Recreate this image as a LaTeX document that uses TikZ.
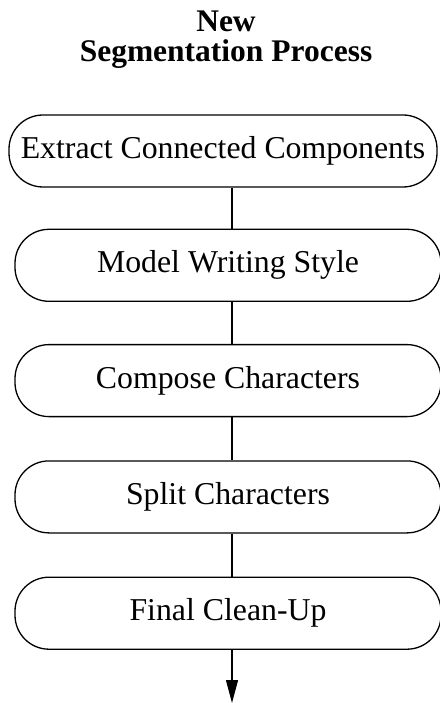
\documentclass[tikz,border=0pt]{standalone}
\usepackage{fontspec}
\setmainfont{Liberation Serif}
\usetikzlibrary{arrows.meta, positioning}

\begin{document}
\begin{tikzpicture}[x=1pt, y=-1pt, >={Triangle[length=23pt, width=12pt]},
    stepbox/.style={draw, line width=1.3pt, rounded corners=34pt,
        minimum height=72pt, minimum width=426pt, inner sep=0pt,
        font=\fontsize{31.8}{36}\selectfont},
    link/.style={line width=1.2pt}]
    \useasboundingbox (0,0) rectangle (439,703);
    \node[align=center, font=\fontsize{31.5}{30}\bfseries\selectfont] (title) at (226,40) {New\\Segmentation Process};
    \node[stepbox, minimum width=428pt] (extract) at (223,151) {Extract Connected Components};
    \node[stepbox, below=41pt of extract, xshift=5pt] (model) {Model Writing Style};
    \node[stepbox, below=42pt of model] (compose) {Compose Characters};
    \node[stepbox, below=43pt of compose] (split) {Split Characters};
    \node[stepbox, below=43pt of split] (final) {Final Clean-Up};
    \coordinate (spine) at (232,0);
    \coordinate (out) at (232,703);
    \draw[link] (extract.south -| spine) -- (model.north -| spine);
    \draw[link] (model.south -| spine) -- (compose.north -| spine);
    \draw[link] (compose.south -| spine) -- (split.north -| spine);
    \draw[link] (split.south -| spine) -- (final.north -| spine);
    \draw[link, ->] (final.south -| spine) -- (out);
\end{tikzpicture}
\end{document}
